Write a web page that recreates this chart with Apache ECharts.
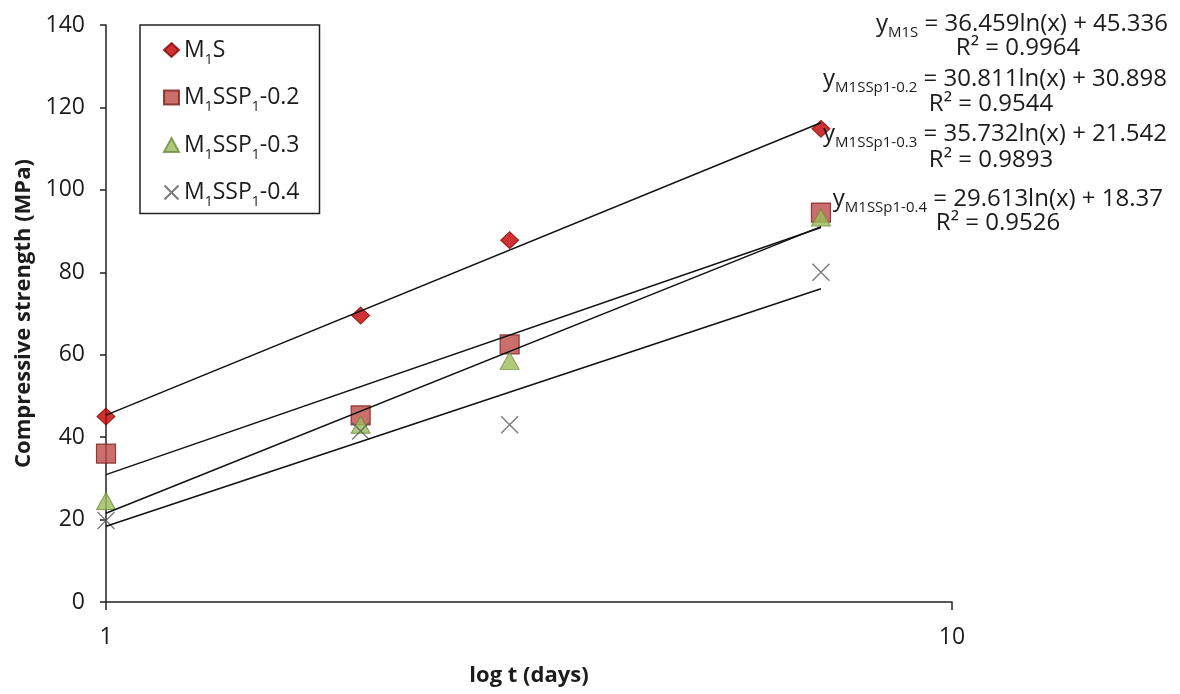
<!DOCTYPE html>
<html>
<head>
<meta charset="utf-8">
<script src="https://cdn.jsdelivr.net/npm/echarts@6/dist/echarts.min.js"></script>
<style>
  html, body { margin: 0; padding: 0; background: #ffffff; }
  #chart { width: 1180px; height: 694px; }
</style>
</head>
<body>
<div id="chart"></div>
<script>
// Curing age (days) and compressive strength (MPa) per mix
const days = [1, 2, 3, 7];
const seriesNames = ['M1S', 'M1SSP1-0.2', 'M1SSP1-0.3', 'M1SSP1-0.4'];
const strengthM1S   = [45, 69.5, 87.8, 114.8];
const strengthSP02  = [36, 45.3, 62.5, 94.5];
const strengthSP03  = [24.5, 43, 58.5, 93.3];
const strengthSP04  = [19.8, 41.5, 43, 80];

// Logarithmic trend lines y = a ln(x) + b
const trendSubscripts = ['M1S', 'M1SSp1-0.2', 'M1SSp1-0.3', 'M1SSp1-0.4'];
const trendSlopes     = ['36.459', '30.811', '35.732', '29.613'];
const trendIntercepts = ['45.336', '30.898', '21.542', '18.37'];
const trendR2         = ['0.9964', '0.9544', '0.9893', '0.9526'];

const yTicks = { min: 0, max: 140, interval: 20 };
const xRange = { min: 1, max: 10 };

const FONT = "'Open Sans', 'Liberation Sans', sans-serif";
const TEXT = '#1c1c1c';

const values = [strengthM1S, strengthSP02, strengthSP03, strengthSP04];

const markerStyles = [
  { symbol: 'diamond', symbolSize: [18, 17], itemStyle: { color: '#C00000', borderColor: '#8A0000', borderWidth: 1 } },
  { symbol: 'rect', symbolSize: 19, itemStyle: { color: '#BE4B48', borderColor: '#7A1E1C', borderWidth: 1.2 } },
  { symbol: 'triangle', symbolSize: [19, 17], itemStyle: { color: '#9BBB59', borderColor: '#6E8B3D', borderWidth: 1 } },
  { symbol: 'path://M0,0L10,10M10,0L0,10', symbolSize: 17, itemStyle: { color: 'none', borderColor: '#5a5a5a', borderWidth: 1.4 } }
];

const scatterSeries = seriesNames.map((name, i) => ({
  name: name,
  type: 'scatter',
  data: days.map((d, j) => [d, values[i][j]]),
  symbol: markerStyles[i].symbol,
  symbolSize: markerStyles[i].symbolSize,
  itemStyle: markerStyles[i].itemStyle,
  z: 3 + i
}));

const xStart = days[0];
const xEnd = days[days.length - 1];
const trendSeries = trendSlopes.map((a, i) => {
  const slope = parseFloat(a);
  const icpt = parseFloat(trendIntercepts[i]);
  return {
    name: 'trend-' + i,
    type: 'line',
    data: [[xStart, slope * Math.log(xStart) + icpt], [xEnd, slope * Math.log(xEnd) + icpt]],
    symbol: 'none',
    lineStyle: { color: '#111', width: 1.5 },
    silent: true,
    z: 8
  };
});

// Equation + R² text blocks at the top right
const eqX = [1168, 1167, 1167, 1163];
const eqY = [22, 77, 132, 197];
const r2X = [1018, 991, 991, 998];
const r2Y = [48, 104, 160, 223];
const graphics = [];
trendSlopes.forEach((a, i) => {
  graphics.push({
    type: 'text',
    x: eqX[i], y: eqY[i],
    z: 20,
    style: {
      text: '{v|y}{s|' + trendSubscripts[i] + '}{v| = ' + a + 'ln(x) + ' + trendIntercepts[i] + '}',
      align: 'right', verticalAlign: 'middle',
      fill: TEXT,
      rich: {
        v: { fontSize: 24, fontFamily: FONT, fill: TEXT, lineHeight: 28, verticalAlign: 'bottom' },
        s: { fontSize: 15, fontFamily: FONT, fill: TEXT, lineHeight: 15, verticalAlign: 'bottom', padding: [0, 0, -4, 0] }
      }
    }
  });
  graphics.push({
    type: 'text',
    x: r2X[i], y: r2Y[i],
    z: 20,
    style: {
      text: 'R² = ' + trendR2[i],
      align: 'center', verticalAlign: 'middle',
      fill: TEXT, fontSize: 24, fontFamily: FONT
    }
  });
});

const chart = echarts.init(document.getElementById('chart'), null, { renderer: 'canvas' });
chart.setOption({
  backgroundColor: '#ffffff',
  animation: false,
  grid: { left: 106, right: 228, top: 25, bottom: 92, containLabel: false },
  legend: {
    data: seriesNames,
    orient: 'vertical',
    left: 140, top: 25,
    padding: [12, 20, 4, 22],
    itemGap: 17.5,
    itemWidth: 15, itemHeight: 14,
    borderColor: '#222', borderWidth: 1.5,
    backgroundColor: '#fff',
    formatter: name => name.replace('M1', 'M{s|1}').replace('P1', 'P{s|1}'),
    textStyle: {
      fontSize: 23, fontFamily: FONT, color: TEXT, lineHeight: 26,
      rich: {
        s: { fontSize: 14, fontFamily: FONT, color: TEXT, verticalAlign: 'bottom', lineHeight: 14, padding: [0, 0, -4, 0] }
      }
    }
  },
  xAxis: {
    type: 'log',
    logBase: 10,
    min: xRange.min, max: xRange.max,
    name: 'log t (days)',
    nameLocation: 'middle',
    nameGap: 63,
    nameTextStyle: { fontSize: 22, fontWeight: 'bold', fontFamily: FONT, color: TEXT },
    axisLine: { show: true, lineStyle: { color: '#222', width: 1.5 } },
    axisTick: { show: true, length: 8, lineStyle: { color: '#222', width: 1.5 } },
    minorTick: { show: false },
    axisLabel: { fontSize: 23, fontFamily: FONT, color: TEXT, margin: 24 },
    splitLine: { show: false }
  },
  yAxis: {
    type: 'value',
    min: yTicks.min, max: yTicks.max, interval: yTicks.interval,
    name: 'Compressive strength (MPa)',
    nameLocation: 'middle',
    nameGap: 66,
    nameTextStyle: { fontSize: 22, fontWeight: 'bold', fontFamily: FONT, color: TEXT },
    axisLine: { show: true, lineStyle: { color: '#222', width: 1.5 } },
    axisTick: { show: true, length: 6, lineStyle: { color: '#222', width: 1.5 } },
    axisLabel: { fontSize: 23, fontFamily: FONT, color: TEXT, margin: 21 },
    splitLine: { show: false }
  },
  series: scatterSeries.concat(trendSeries),
  graphic: graphics
});
</script>
</body>
</html>
